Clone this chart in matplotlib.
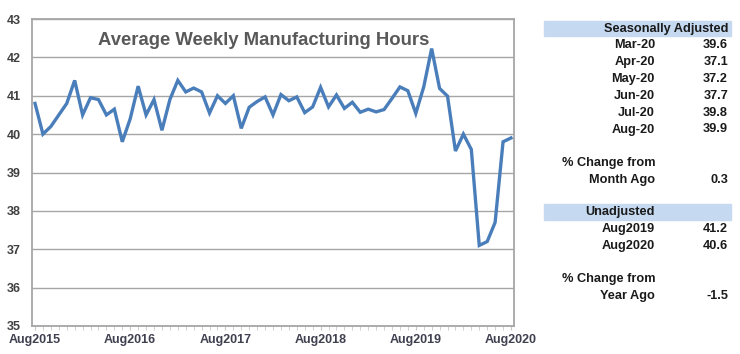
import numpy as np
import matplotlib.pyplot as plt

# monthly average weekly hours, Aug2015 .. Aug2020
hours = [40.8, 40.0, 40.2, 40.5, 40.8, 41.4, 40.5, 40.95, 40.9, 40.5,
         40.65, 39.8, 40.4, 41.25, 40.5, 40.9, 40.1, 40.9, 41.4, 41.1,
         41.2, 41.1, 40.55, 41.0, 40.8, 41.0, 40.15, 40.7, 40.85, 40.97,
         40.5, 41.03, 40.87, 40.97, 40.56, 40.71, 41.22, 40.71, 41.02, 40.67,
         40.83, 40.57, 40.65, 40.58, 40.64, 40.93, 41.23, 41.13, 40.54, 41.23,
         42.23, 41.19, 40.99, 39.56, 40.0, 39.6, 37.1, 37.2, 37.7, 39.8,
         39.9]
year_labels = ["Aug2015", "Aug2016", "Aug2017", "Aug2018", "Aug2019", "Aug2020"]

sa_months = ["Mar-20", "Apr-20", "May-20", "Jun-20", "Jul-20", "Aug-20"]
sa_values = ["39.6", "37.1", "37.2", "37.7", "39.8", "39.9"]
month_change = "0.3"
unadj_labels = ["Aug2019", "Aug2020"]
unadj_values = ["41.2", "40.6"]
year_change = "-1.5"

plt.rcParams['font.family'] = ['Liberation Sans', 'DejaVu Sans']

fig = plt.figure(figsize=(7.4, 3.54), dpi=100)
ax = fig.add_axes([32 / 740, 28 / 354, 482 / 740, 307 / 354])

x = np.arange(len(hours))
ax.plot(x, hours, color='#4a7ebb', lw=2.4, solid_joinstyle='miter', zorder=3)

ax.set_ylim(35, 43)
ax.set_xlim(-0.38, len(hours) - 1 + 0.38)
ax.set_yticks(range(35, 44))
ax.grid(axis='y', color='#a6a6a6', lw=1.0)
ax.set_axisbelow(True)

ax.set_xticks(range(0, len(hours), 12))
ax.set_xticklabels(year_labels)
ax.set_xticks(x, minor=True)
ax.tick_params(axis='x', which='both', direction='out', length=3, color='#c8c8c8', pad=2.5)
ax.tick_params(axis='y', length=0, pad=8)
for lbl in ax.get_xticklabels():
    lbl.set_fontweight('bold')
    lbl.set_color('#404050')
    lbl.set_fontsize(9)
for lbl in ax.get_yticklabels():
    lbl.set_fontweight('bold')
    lbl.set_color('#404040')
    lbl.set_fontsize(9)
    lbl.set_verticalalignment('center_baseline')
for s in ax.spines.values():
    s.set_color('#a6a6a6')
    s.set_linewidth(1.3)

ax.text(0.48, 0.93, "Average Weekly Manufacturing Hours", transform=ax.transAxes,
        ha='center', va='center', fontsize=13.3, fontweight='bold', color='#595959')

# side table
def fx(px):
    return px / 740

def fy(py):
    return 1 - py / 354

lab_x = fx(655)
val_x = fx(728)
band_l, band_r = fx(544), fx(731)
txt = dict(fontsize=9.2, fontweight='bold', color='#1a1a1a', va='center')

for top, bot in [(21, 36), (204, 220)]:
    fig.patches.append(plt.Rectangle((band_l, fy(bot)), band_r - band_l, fy(top) - fy(bot),
                                     transform=fig.transFigure, color='#c5d9f1', zorder=0))

fig.text(val_x, fy(29), "Seasonally Adjusted", ha='right', **txt)
for i, (m, v) in enumerate(zip(sa_months, sa_values)):
    yy = 45.5 + i * 16.8
    fig.text(lab_x, fy(yy), m, ha='right', **txt)
    fig.text(val_x, fy(yy), v, ha='right', **txt)

fig.text(lab_x, fy(163), "% Change from", ha='right', **txt)
fig.text(lab_x, fy(180), "Month Ago", ha='right', **txt)
fig.text(val_x, fy(180), month_change, ha='right', **txt)

fig.text(lab_x, fy(212), "Unadjusted", ha='right', **txt)
for i, (m, v) in enumerate(zip(unadj_labels, unadj_values)):
    yy = 229 + i * 16.8
    fig.text(lab_x, fy(yy), m, ha='right', **txt)
    fig.text(val_x, fy(yy), v, ha='right', **txt)

fig.text(lab_x, fy(279), "% Change from", ha='right', **txt)
fig.text(lab_x, fy(296), "Year Ago", ha='right', **txt)
fig.text(val_x, fy(296), year_change, ha='right', **txt)

fig.savefig("out.png", dpi=100)
